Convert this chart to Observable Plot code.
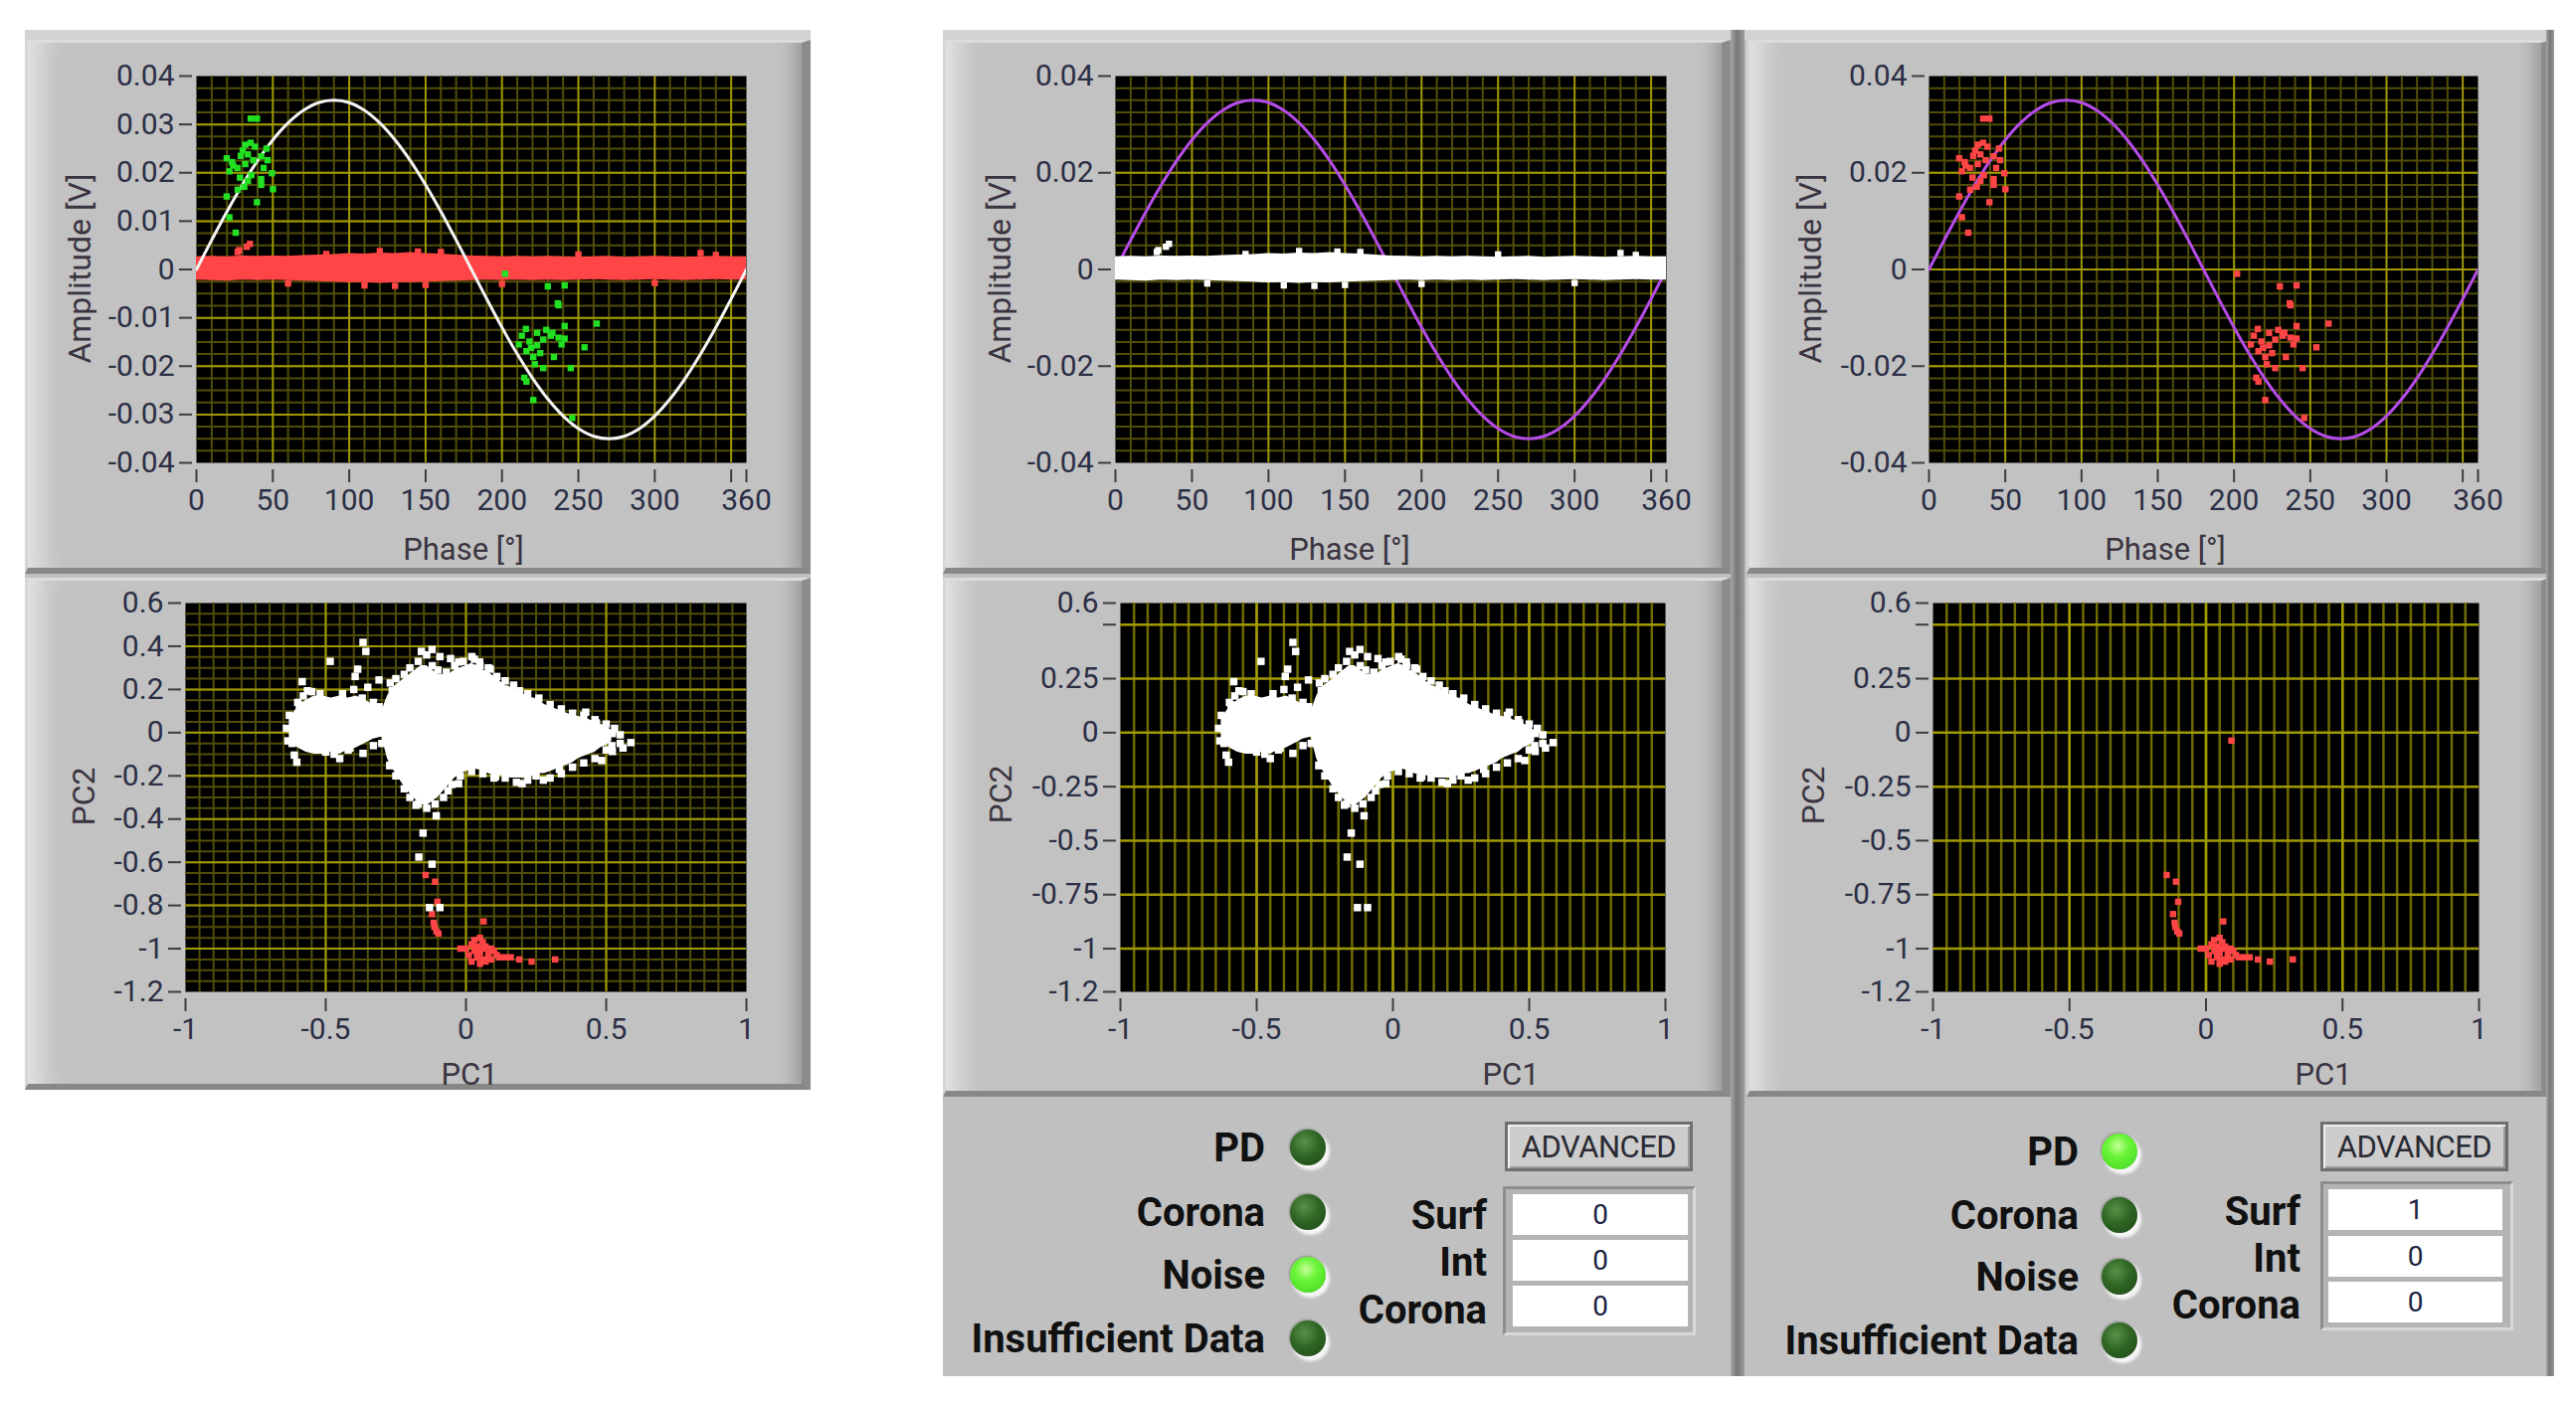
<!DOCTYPE html>
<html><head><meta charset="utf-8">
<script src="https://cdn.jsdelivr.net/npm/d3@7"></script>
<script src="https://cdn.jsdelivr.net/npm/@observablehq/plot@0.6"></script>
<style>
html,body{margin:0;padding:0;background:#fff;}
body{width:2590px;height:1410px;position:relative;overflow:hidden;font-family:Roboto,"Noto Sans",sans-serif;}
.col{position:absolute;background:#c0c0c0;}
.strip{position:absolute;background:#d3d3d3;height:10px;}
.box{position:absolute;background:#c2c2c2;box-sizing:border-box;border-top:3px solid #dcdcdc;border-left:3px solid #d6d6d6;border-right:9px solid #8c8c8c;border-bottom:6px solid #888;
 box-shadow: inset 30px 0 26px -18px rgba(255,255,255,.6), inset -20px 0 16px -12px rgba(0,0,0,.2);}
.sep{position:absolute;background:linear-gradient(90deg,#a8a8a8,#777 45%,#9a9a9a);}
.plotwrap{position:absolute;}
.plotwrap svg{max-width:none;overflow:visible;}
.lab{position:absolute;white-space:nowrap;font-size:31px;color:#3a3440;transform:translate(-50%,-50%);}
.lab.rot{font-size:32px;transform:translate(-50%,-50%) rotate(-90deg);}
.ind{position:absolute;white-space:nowrap;font-size:40px;font-weight:700;color:#111;transform:translateY(-50%);}
.led{position:absolute;width:36px;height:36px;border-radius:50%;transform:translate(-50%,-50%);
 box-shadow: 3px 4px 3px 1px rgba(255,255,255,.85), -1px -1px 2px rgba(0,0,0,.25);}
.led.off{background:radial-gradient(circle at 40% 35%, #5a9148 0%, #2f6624 45%, #1d4716 100%);}
.led.on{background:radial-gradient(circle at 45% 35%, #c8ff9a 0%, #6cf53a 35%, #3fd41c 100%);}
.btn{position:absolute;box-sizing:border-box;background:#cdcdcd;border:3px solid #6f6f6f;box-shadow:inset 2px 2px 0 #f0f0f0, inset -2px -2px 0 #9a9a9a;font-size:31px;color:#2a2a33;display:flex;align-items:center;justify-content:center;letter-spacing:-0.5px;}
.frame2{position:absolute;box-sizing:border-box;background:#b4b4b4;border-top:3px solid #8e8e8e;border-left:3px solid #8e8e8e;border-bottom:3px solid #d8d8d8;border-right:3px solid #d8d8d8;}
.num{position:absolute;background:#fff;font-size:28px;color:#1c2340;display:flex;align-items:center;justify-content:center;}
</style>
</head><body>
<script>
// ---------------- DATA ----------------
const phaseGrid = [0,10,20,30,40,50,60,70,80,90,100,110,120,130,140,150,160,170,180,190,200,210,220,230,240,250,260,270,280,290,300,310,320,330,340,350,360];
const sineAmp   = [0,0.0061,0.012,0.0175,0.0225,0.0268,0.0303,0.0329,0.0345,0.035,0.0345,0.0329,0.0303,0.0268,0.0225,0.0175,0.012,0.0061,0,-0.0061,-0.012,-0.0175,-0.0225,-0.0268,-0.0303,-0.0329,-0.0345,-0.035,-0.0345,-0.0329,-0.0303,-0.0268,-0.0225,-0.0175,-0.012,-0.0061,0];
const noiseUpper = [0.0026,0.0027,0.0026,0.0028,0.0027,0.0028,0.0027,0.0029,0.0030,0.0031,0.0033,0.0032,0.0034,0.0033,0.0035,0.0033,0.0032,0.0030,0.0028,0.0027,0.0026,0.0027,0.0026,0.0027,0.0026,0.0025,0.0026,0.0027,0.0025,0.0026,0.0027,0.0026,0.0025,0.0026,0.0027,0.0026,0.0026];
const noiseLower = [-0.0022,-0.0023,-0.0024,-0.0022,-0.0023,-0.0022,-0.0023,-0.0024,-0.0025,-0.0026,-0.0028,-0.0027,-0.0029,-0.0027,-0.0028,-0.0026,-0.0025,-0.0024,-0.0023,-0.0022,-0.0023,-0.0022,-0.0023,-0.0022,-0.0023,-0.0022,-0.0021,-0.0022,-0.0023,-0.0022,-0.0021,-0.0022,-0.0023,-0.0022,-0.0021,-0.0022,-0.0022];
const noiseOutPhase = [28,35,33,27,120,145,160,110,130,150,250,330,300,60,85,200,340];
const noiseOutAmp   = [0.0040,0.0053,0.0047,0.0036,0.0038,0.0037,0.0036,-0.0033,-0.0034,-0.0032,0.0031,0.0034,-0.0028,-0.0029,0.0032,-0.0030,0.0030];

const pdPhase = [35.5,39.6,32,35.5,38.3,30.3,33.7,45.9,42.4,19.8,23.3,26.8,32,37.2,46.6,21.6,28.5,33.7,42.4,49.4,31.3,42.4,50.1,19.8,39.6,21.6,25.7,24,29,36,44,27,
                 230,241,236.5,237,262,241,215.6,223,233,237,241,213,218,223,227,232,254,216,220.5,225,234,221.5,227,245,214.6,216,220.5,246,202,219,229,239,211];
const pdAmp   = [0.0312,0.0312,0.0258,0.0262,0.0254,0.0246,0.0238,0.025,0.0234,0.023,0.0222,0.021,0.0218,0.0226,0.0226,0.0203,0.019,0.0183,0.0187,0.0199,0.0171,0.0175,0.0166,0.0151,0.0139,0.0108,0.0076,0.0215,0.0235,0.0195,0.021,0.0165,
                 -0.0035,-0.0033,-0.007,-0.0074,-0.0112,-0.0117,-0.0123,-0.0131,-0.0131,-0.0141,-0.0143,-0.0137,-0.0149,-0.0157,-0.0145,-0.0137,-0.0161,-0.0169,-0.0181,-0.0173,-0.0181,-0.0196,-0.0204,-0.0204,-0.0224,-0.0232,-0.027,-0.0307,-0.0009,-0.0162,-0.0125,-0.0155,-0.0155];

// PCA noise cloud envelope
const blobX   = [-0.63,-0.60,-0.57,-0.54,-0.51,-0.48,-0.45,-0.42,-0.39,-0.36,-0.33,-0.30,
                 -0.28,-0.26,-0.24,-0.22,-0.20,-0.18,-0.16,-0.14,-0.12,-0.10,-0.08,-0.06,-0.04,-0.02,0,0.02,0.04,0.06,0.08,0.10,0.12,0.14,0.16,0.18,0.20,0.22,0.24,0.26,0.28,0.30,0.32,0.34,0.36,0.38,0.40,0.42,0.44,0.46,0.48,0.50,0.52];
const blobTop = [0.06,0.12,0.15,0.17,0.17,0.16,0.17,0.16,0.17,0.15,0.13,0.10,
                 0.17,0.21,0.23,0.25,0.27,0.29,0.31,0.31,0.29,0.27,0.27,0.27,0.29,0.30,0.31,0.32,0.31,0.29,0.28,0.26,0.24,0.22,0.21,0.20,0.18,0.17,0.16,0.15,0.13,0.12,0.11,0.10,0.09,0.08,0.075,0.07,0.06,0.05,0.04,0.03,0.01];
const blobBot = [-0.04,-0.07,-0.09,-0.10,-0.10,-0.09,-0.10,-0.08,-0.07,-0.05,-0.03,-0.02,
                 -0.12,-0.17,-0.21,-0.25,-0.28,-0.31,-0.33,-0.34,-0.32,-0.30,-0.27,-0.24,-0.21,-0.19,-0.18,-0.17,-0.17,-0.18,-0.19,-0.20,-0.20,-0.20,-0.21,-0.21,-0.21,-0.21,-0.20,-0.19,-0.19,-0.18,-0.17,-0.16,-0.15,-0.14,-0.12,-0.11,-0.10,-0.09,-0.07,-0.06,-0.04];
const noisePC1 = [-0.367,-0.357,-0.484,-0.584,-0.565,-0.594,-0.635,-0.612,-0.603,-0.414,-0.367,-0.386,-0.395,-0.31,-0.263,-0.159,-0.121,-0.093,-0.055,-0.026,0.021,0.049,0.087,0.191,0.257,0.295,0.427,0.465,0.522,0.588,0.56,0.522,0.484,0.333,0.276,0.2,0.106,-0.026,-0.064,-0.178,-0.272,-0.234,
                  -0.106,-0.153,-0.168,-0.121,-0.13,-0.093,
                  -0.64,-0.63,-0.62,-0.6,-0.58,-0.55,-0.52,-0.5,-0.47,-0.44,-0.42,-0.4,-0.37,-0.35,-0.33,-0.31,-0.3,-0.33,-0.45,
                  -0.27,-0.25,-0.22,-0.2,-0.17,-0.14,-0.12,-0.1,-0.07,-0.04,-0.01,0.03,0.05,0.08,0.11,0.14,0.17,0.22,0.26,0.3,0.34,0.38,0.42,0.46,0.5,0.53,0.55,
                  0.55,0.52,0.5,0.46,0.42,0.38,0.34,0.3,0.25,0.22,0.18,0.14,0.1,0.06,0.02,-0.02,-0.05,-0.08,-0.11,-0.14,-0.17,-0.2,-0.22,-0.25,-0.27];
const noisePC2 = [0.418,0.376,0.33,0.236,0.194,0.128,-0.038,-0.104,-0.137,-0.071,-0.096,0.294,0.26,0.244,0.194,0.376,0.385,0.352,0.343,0.327,0.352,0.327,0.294,0.194,0.145,0.111,0.095,0.045,-0.004,-0.046,-0.071,-0.087,-0.129,-0.17,-0.22,-0.236,-0.203,-0.236,-0.269,-0.336,-0.153,-0.104,
                  -0.385,-0.465,-0.576,-0.609,-0.81,-0.81,
                  0.02,0.08,-0.05,0.14,0.17,0.19,0.18,-0.09,-0.1,0.18,-0.08,0.2,0.16,0.21,0.14,0.12,-0.05,-0.06,-0.12,
                  0.23,0.25,0.27,0.3,0.33,0.36,0.31,0.29,0.28,0.31,0.33,0.34,0.31,0.3,0.26,0.24,0.22,0.18,0.16,0.13,0.11,0.09,0.08,0.06,0.04,0.02,-0.01,
                  -0.05,-0.06,-0.08,-0.12,-0.14,-0.16,-0.19,-0.21,-0.2,-0.22,-0.23,-0.21,-0.21,-0.19,-0.18,-0.2,-0.24,-0.3,-0.33,-0.35,-0.33,-0.3,-0.26,-0.2,-0.15];
// PCA PD points
const pdPC1 = [-0.144,-0.11,-0.102,-0.121,-0.112,-0.098,-0.105,-0.115,0.063,0.093,
               0.03,0.05,0.06,0.02,0.04,0.07,0.09,0.0,0.03,0.05,0.08,0.11,0.01,0.04,0.06,0.09,0.12,0.02,0.05,0.07,-0.02,0.1,0.06,0.04,0.08,0.14,0.16,0.19,0.234,0.318];
const pdPC2 = [-0.659,-0.69,-0.783,-0.84,-0.9,-0.93,-0.92,-0.88,-0.874,-0.037,
               -0.96,-0.95,-0.97,-0.98,-0.99,-0.99,-1.0,-1.0,-1.01,-1.02,-1.02,-1.03,-1.03,-1.04,-1.05,-1.05,-1.04,-1.06,-1.07,-1.06,-1.0,-1.01,-1.0,-1.02,-1.04,-1.04,-1.04,-1.05,-1.06,-1.05];

// tick labels
const phaseTicks = [0,50,100,150,200,250,300,350,360];
const pcXTicks = [-1,-0.5,0,0.5,1];
const ampTicksLeft = [0.04,0.03,0.02,0.01,0,-0.01,-0.02,-0.03,-0.04];
const ampTicksMid = [0.04,0.02,0,-0.02,-0.04];
const pc2TicksLeft = [0.6,0.4,0.2,0,-0.2,-0.4,-0.6,-0.8,-1,-1.2];
const pc2TicksMid = [0.6,0.5,0.25,0,-0.25,-0.5,-0.75,-1,-1.2];

// ---------------- TABLES ----------------
const sine = phaseGrid.map((p,i)=>({p, a: sineAmp[i]}));
const band = phaseGrid.map((p,i)=>({p, lo: noiseLower[i], hi: noiseUpper[i]}));
const noiseOut = noiseOutPhase.map((p,i)=>({p, a: noiseOutAmp[i]}));
const pd = pdPhase.map((p,i)=>({p, a: pdAmp[i]}));
const blob = blobX.map((x,i)=>({x, lo: blobBot[i], hi: blobTop[i]}));
const noisePts = noisePC1.map((x,i)=>({x, y: noisePC2[i]}));
const pdPts = pdPC1.map((x,i)=>({x, y: pdPC2[i]}));

const MAJ = "#a09a00", MIN = "#514e08", VMID = "#6e6a00";
const TXT = "#2c2f45";

function fmt(skip){ return d => skip.includes(d) ? "" : String(Math.round(d*10000)/10000); }

function addPlot({left, top, w, h, xDomain, yDomain, xTicks, yTicks, xSkip=[], ySkip=[], grid, marks}){
  const ml = 130, mr = 20, mt = 20, mb = 70;
  const svg = Plot.plot({
    width: w+ml+mr, height: h+mt+mb,
    marginLeft: ml, marginRight: mr, marginTop: mt, marginBottom: mb,
    x: {domain: xDomain}, y: {domain: yDomain},
    style: {background: "transparent", fontFamily: "Roboto, 'Noto Sans', sans-serif", fontSize: "30px", color: TXT, overflow: "visible"},
    marks: [
      Plot.frame({fill: "black", stroke: "none"}),
      ...grid,
      ...marks,
      Plot.axisX(xTicks, {tickSize: 13, tickPadding: 6, dy: 7, tickFormat: fmt(xSkip), strokeWidth: 2, stroke: "#3d3d3d", label: null}),
      Plot.axisY(yTicks, {tickSize: 13, tickPadding: 5, dx: -4, tickFormat: fmt(ySkip), strokeWidth: 2, stroke: "#3d3d3d", label: null})
    ]
  });
  const div = document.createElement("div");
  div.className = "plotwrap";
  div.style.left = (left-ml)+"px"; div.style.top = (top-mt)+"px";
  div.style.width = (w+ml+mr)+"px"; div.style.height = (h+mt+mb)+"px";
  div.appendChild(svg);
  document.body.appendChild(div);
}
function el(cls, css, text){
  const d = document.createElement("div"); d.className = cls;
  Object.assign(d.style, css); if (text!==undefined) d.textContent = text;
  document.body.appendChild(d); return d;
}

// ---------------- PANELS ----------------
el("col",{left:"25px",top:"30px",width:"790px",height:"1066px"});
el("col",{left:"948px",top:"30px",width:"802px",height:"1354px"});
el("col",{left:"1752px",top:"30px",width:"815px",height:"1354px"});
el("strip",{left:"25px",top:"30px",width:"790px"});
el("strip",{left:"948px",top:"30px",width:"792px"});
el("strip",{left:"1752px",top:"30px",width:"815px"});
el("box",{left:"25px",top:"40px",width:"790px",height:"537px"});
el("box",{left:"25px",top:"581px",width:"790px",height:"515px"});
el("box",{left:"948px",top:"40px",width:"792px",height:"537px"});
el("box",{left:"948px",top:"581px",width:"792px",height:"522px"});
el("box",{left:"1756px",top:"40px",width:"808px",height:"537px"});
el("box",{left:"1756px",top:"581px",width:"808px",height:"522px"});
el("sep",{left:"1740px",top:"30px",width:"14px",height:"1354px"});
el("sep",{left:"2560px",top:"30px",width:"8px",height:"1354px"});

// ---------------- GRIDS ----------------
const topMinorX = d3.range(10,360,10).filter(v=>v%50!==0);
const topMajorX = [50,100,150,200,250,300,350];
const topMinorY = d3.range(-0.0375,0.04,0.0025);
function topGrid(majorY){
  return [
    Plot.ruleX(topMinorX,{stroke:MIN,strokeWidth:2}),
    Plot.ruleY(topMinorY,{stroke:MIN,strokeWidth:2}),
    Plot.ruleX(topMajorX,{stroke:MAJ,strokeWidth:2}),
    Plot.ruleY(majorY,{stroke:MAJ,strokeWidth:2})
  ];
}
const leftBotGrid = [
  Plot.ruleX(d3.range(-0.95,1,0.05),{stroke:MIN,strokeWidth:2}),
  Plot.ruleY(d3.range(-1.15,0.6,0.05),{stroke:MIN,strokeWidth:2}),
  Plot.ruleX([-0.5,0,0.5],{stroke:MAJ,strokeWidth:2}),
  Plot.ruleY([-1,-0.8,-0.6,-0.4,-0.2,0,0.2,0.4],{stroke:MAJ,strokeWidth:2})
];
const midBotGrid = [
  Plot.ruleX(d3.range(-0.95,1,0.05),{stroke:VMID,strokeWidth:2.5}),
  Plot.ruleX([-0.5,0,0.5],{stroke:MAJ,strokeWidth:2.5}),
  Plot.ruleY([-1,-0.75,-0.5,-0.25,0,0.25,0.5],{stroke:MAJ,strokeWidth:2.5})
];

const sq = {symbol:"square", r:3.6, stroke:"none"};
const sqB = {symbol:"square", r:4.2, stroke:"none"};

// ---------------- PLOTS ----------------
addPlot({left:197, top:76, w:553, h:389, xDomain:[0,360], yDomain:[-0.04,0.04],
  xTicks: phaseTicks, xSkip:[350], yTicks: ampTicksLeft, grid: topGrid([-0.03,-0.02,-0.01,0,0.01,0.02,0.03]),
  marks:[
    Plot.areaY(band,{x:"p",y1:"lo",y2:"hi",fill:"#ff4545",clip:true}),
    Plot.dot(noiseOut,{x:"p",y:"a",fill:"#ff4545",...sq,clip:true}),
    Plot.line(sine,{x:"p",y:"a",stroke:"#f4f4f4",strokeWidth:3,curve:"catmull-rom",clip:true}),
    Plot.dot(pd,{x:"p",y:"a",fill:"#22e022",...sq,clip:true})
  ]});
addPlot({left:186, top:606, w:564, h:391, xDomain:[-1,1], yDomain:[-1.2,0.6],
  xTicks: pcXTicks, yTicks: pc2TicksLeft, grid: leftBotGrid,
  marks:[
    Plot.dot(pdPts,{x:"x",y:"y",fill:"#ff4545",...sq,clip:true}),
    Plot.areaY(blob,{x:"x",y1:"lo",y2:"hi",fill:"#ffffff",clip:true}),
    Plot.dot(noisePts,{x:"x",y:"y",fill:"#ffffff",...sqB,clip:true})
  ]});
addPlot({left:1121, top:76, w:554, h:389, xDomain:[0,360], yDomain:[-0.04,0.04],
  xTicks: phaseTicks, xSkip:[350], yTicks: ampTicksMid, grid: topGrid([-0.02,0,0.02]),
  marks:[
    Plot.line(sine,{x:"p",y:"a",stroke:"#b54ce8",strokeWidth:3,curve:"catmull-rom",clip:true}),
    Plot.areaY(band,{x:"p",y1:"lo",y2:"hi",fill:"#ffffff",clip:true}),
    Plot.dot(noiseOut,{x:"p",y:"a",fill:"#ffffff",...sq,clip:true})
  ]});
addPlot({left:1126, top:606, w:548, h:391, xDomain:[-1,1], yDomain:[-1.2,0.6],
  xTicks: pcXTicks, yTicks: pc2TicksMid, ySkip:[0.5], grid: midBotGrid,
  marks:[
    Plot.areaY(blob,{x:"x",y1:"lo",y2:"hi",fill:"#ffffff",clip:true}),
    Plot.dot(noisePts,{x:"x",y:"y",fill:"#ffffff",...sqB,clip:true})
  ]});
addPlot({left:1939, top:76, w:552, h:389, xDomain:[0,360], yDomain:[-0.04,0.04],
  xTicks: phaseTicks, xSkip:[350], yTicks: ampTicksMid, grid: topGrid([-0.02,0,0.02]),
  marks:[
    Plot.line(sine,{x:"p",y:"a",stroke:"#b54ce8",strokeWidth:3,curve:"catmull-rom",clip:true}),
    Plot.dot(pd,{x:"p",y:"a",fill:"#ff4545",...sq,clip:true})
  ]});
addPlot({left:1943, top:606, w:549, h:391, xDomain:[-1,1], yDomain:[-1.2,0.6],
  xTicks: pcXTicks, yTicks: pc2TicksMid, ySkip:[0.5], grid: midBotGrid,
  marks:[
    Plot.dot(pdPts,{x:"x",y:"y",fill:"#ff4545",...sq,clip:true})
  ]});

// ---------------- AXIS TITLES ----------------
const titles = [
  ["Amplitude [V]",80,270,true],["Phase [°]",466,552,false],["PC2",84,801,true],["PC1",472,1080,false],
  ["Amplitude [V]",1005,270,true],["Phase [°]",1357,552,false],["PC2",1006,799,true],["PC1",1519,1080,false],
  ["Amplitude [V]",1820,270,true],["Phase [°]",2177,552,false],["PC2",1823,800,true],["PC1",2336,1080,false]
];
for (const [t,x,y,r] of titles) el("lab"+(r?" rot":""),{left:x+"px",top:y+"px"},t);

// ---------------- INDICATORS ----------------
const indNames = ["PD","Corona","Noise","Insufficient Data"];
const midLeds = [false,false,true,false];
const rightLeds = [true,false,false,false];
const cntNames = ["Surf","Int","Corona"];
const midCounts = [0,0,0];
const rightCounts = [1,0,0];

function indicators(labelRight, ys, ledX, leds, btnLeft, frameLeft, frameTop, boxLeft, boxW, boxTops, cntRight, cntYs, counts){
  indNames.forEach((n,i)=>{
    el("ind",{right:(2590-labelRight)+"px",top:ys[i]+"px"},n);
    el("led "+(leds[i]?"on":"off"),{left:ledX+"px",top:ys[i]+"px"});
  });
  el("btn",{left:btnLeft+"px",top:"1128px",width:"189px",height:"50px"},"ADVANCED");
  el("frame2",{left:frameLeft+"px",top:frameTop+"px",width:"194px",height:"150px"});
  cntNames.forEach((n,i)=>{
    el("ind",{right:(2590-cntRight)+"px",top:cntYs[i]+"px"},n);
    el("num",{left:boxLeft+"px",top:boxTops[i]+"px",width:boxW+"px",height:"41px"},String(counts[i]));
  });
}
indicators(1272,[1154,1219,1282,1346],1315,midLeds,1513,1511,1193,1521,176,[1201,1247,1293],1495,[1222,1269,1317],midCounts);
indicators(2090,[1158,1222,1284,1348],2131,rightLeds,2333,2333,1188,2341,175,[1196,1243,1289],2313,[1218,1265,1312],rightCounts);
</script>
</body></html>
